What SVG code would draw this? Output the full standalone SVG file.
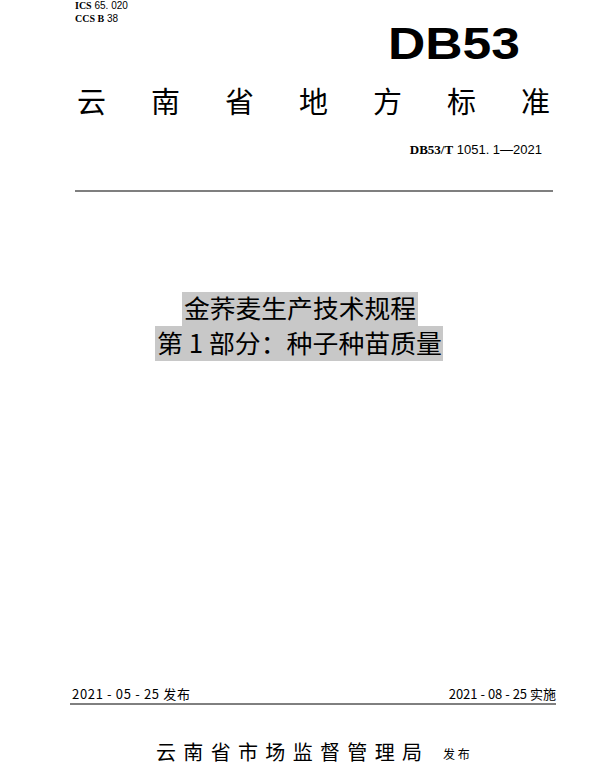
<svg xmlns="http://www.w3.org/2000/svg" width="600" height="768" viewBox="0 0 600 768">
<style>
.s{font-family:"Liberation Serif",serif;font-weight:bold}
.a{font-family:"Liberation Sans",sans-serif}
.c{font-family:"Noto Sans CJK SC",sans-serif}
</style>
<rect width="600" height="768" fill="#fff"/>
<g id="header">
<text x="75" y="9" font-size="10"><tspan class="s">ICS</tspan><tspan class="a"> 65. 020</tspan></text>
<text x="75" y="22" font-size="10"><tspan class="s">CCS B</tspan><tspan class="a"> 38</tspan></text>
<text x="388" y="59" class="a" font-size="44" font-weight="bold" textLength="132" lengthAdjust="spacingAndGlyphs">DB53</text>
<text x="77" y="113" class="c" font-size="29" textLength="473" lengthAdjust="spacing">云南省地方标准</text>
<text x="542" y="154" font-size="13" text-anchor="end"><tspan class="s">DB53/T</tspan><tspan class="a"> 1051. 1—2021</tspan></text>
<line x1="75" y1="191" x2="553" y2="191" stroke="#000" stroke-width="1.2"/>
</g>
<g id="title">
<rect x="182" y="292" width="236" height="34" fill="#c8c8c8"/>
<rect x="155" y="326" width="288" height="35" fill="#c8c8c8"/>
<text x="184" y="318" class="c" font-size="25" textLength="232" lengthAdjust="spacingAndGlyphs">金荞麦生产技术规程</text>
<text x="157" y="353" class="c" font-size="25" textLength="285" lengthAdjust="spacingAndGlyphs">第 1 部分：种子种苗质量</text>
</g>
<g id="footer">
<text x="72" y="699" class="c" font-size="13" textLength="118" lengthAdjust="spacing">2021 - 05 - 25 发布</text>
<text x="556" y="699" class="c" font-size="13" text-anchor="end">2021 - 08 - 25 实施</text>
<line x1="70" y1="704" x2="556" y2="704" stroke="#000" stroke-width="1"/>
<text x="156" y="760" class="c" font-size="20" textLength="266" lengthAdjust="spacing">云南省市场监督管理局</text>
<text x="443" y="759" class="c" font-size="12">发 布</text>
</g>
</svg>
